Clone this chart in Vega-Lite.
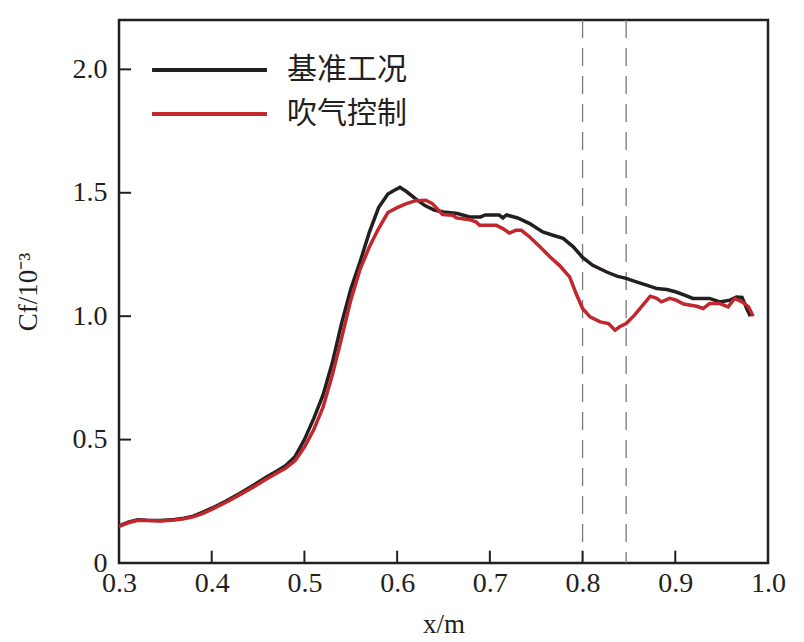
{
  "$schema": "https://vega.github.io/schema/vega-lite/v6.json",
  "autosize": "none",
  "width": 649,
  "height": 543,
  "padding": {"left": 119, "top": 20, "right": 36, "bottom": 79},
  "background": "white",
  "datasets": {
    "curves": [
      {"x": 0.300, "cf": 0.150, "case": "基准工况"},
      {"x": 0.310, "cf": 0.165, "case": "基准工况"},
      {"x": 0.320, "cf": 0.175, "case": "基准工况"},
      {"x": 0.330, "cf": 0.173, "case": "基准工况"},
      {"x": 0.345, "cf": 0.172, "case": "基准工况"},
      {"x": 0.360, "cf": 0.176, "case": "基准工况"},
      {"x": 0.370, "cf": 0.181, "case": "基准工况"},
      {"x": 0.380, "cf": 0.190, "case": "基准工况"},
      {"x": 0.390, "cf": 0.205, "case": "基准工况"},
      {"x": 0.400, "cf": 0.222, "case": "基准工况"},
      {"x": 0.415, "cf": 0.250, "case": "基准工况"},
      {"x": 0.430, "cf": 0.282, "case": "基准工况"},
      {"x": 0.445, "cf": 0.315, "case": "基准工况"},
      {"x": 0.460, "cf": 0.350, "case": "基准工况"},
      {"x": 0.470, "cf": 0.372, "case": "基准工况"},
      {"x": 0.480, "cf": 0.395, "case": "基准工况"},
      {"x": 0.490, "cf": 0.432, "case": "基准工况"},
      {"x": 0.500, "cf": 0.500, "case": "基准工况"},
      {"x": 0.510, "cf": 0.585, "case": "基准工况"},
      {"x": 0.520, "cf": 0.680, "case": "基准工况"},
      {"x": 0.530, "cf": 0.810, "case": "基准工况"},
      {"x": 0.540, "cf": 0.970, "case": "基准工况"},
      {"x": 0.550, "cf": 1.110, "case": "基准工况"},
      {"x": 0.560, "cf": 1.220, "case": "基准工况"},
      {"x": 0.570, "cf": 1.340, "case": "基准工况"},
      {"x": 0.580, "cf": 1.440, "case": "基准工况"},
      {"x": 0.590, "cf": 1.495, "case": "基准工况"},
      {"x": 0.597, "cf": 1.510, "case": "基准工况"},
      {"x": 0.603, "cf": 1.522, "case": "基准工况"},
      {"x": 0.610, "cf": 1.505, "case": "基准工况"},
      {"x": 0.620, "cf": 1.475, "case": "基准工况"},
      {"x": 0.630, "cf": 1.448, "case": "基准工况"},
      {"x": 0.640, "cf": 1.430, "case": "基准工况"},
      {"x": 0.650, "cf": 1.422, "case": "基准工况"},
      {"x": 0.665, "cf": 1.416, "case": "基准工况"},
      {"x": 0.678, "cf": 1.402, "case": "基准工况"},
      {"x": 0.690, "cf": 1.402, "case": "基准工况"},
      {"x": 0.695, "cf": 1.410, "case": "基准工况"},
      {"x": 0.710, "cf": 1.410, "case": "基准工况"},
      {"x": 0.714, "cf": 1.398, "case": "基准工况"},
      {"x": 0.718, "cf": 1.410, "case": "基准工况"},
      {"x": 0.730, "cf": 1.398, "case": "基准工况"},
      {"x": 0.743, "cf": 1.375, "case": "基准工况"},
      {"x": 0.757, "cf": 1.341, "case": "基准工况"},
      {"x": 0.768, "cf": 1.328, "case": "基准工况"},
      {"x": 0.779, "cf": 1.315, "case": "基准工况"},
      {"x": 0.790, "cf": 1.281, "case": "基准工况"},
      {"x": 0.800, "cf": 1.238, "case": "基准工况"},
      {"x": 0.811, "cf": 1.206, "case": "基准工况"},
      {"x": 0.826, "cf": 1.179, "case": "基准工况"},
      {"x": 0.837, "cf": 1.162, "case": "基准工况"},
      {"x": 0.847, "cf": 1.153, "case": "基准工况"},
      {"x": 0.858, "cf": 1.139, "case": "基准工况"},
      {"x": 0.869, "cf": 1.126, "case": "基准工况"},
      {"x": 0.880, "cf": 1.112, "case": "基准工况"},
      {"x": 0.891, "cf": 1.108, "case": "基准工况"},
      {"x": 0.901, "cf": 1.098, "case": "基准工况"},
      {"x": 0.910, "cf": 1.085, "case": "基准工况"},
      {"x": 0.919, "cf": 1.072, "case": "基准工况"},
      {"x": 0.937, "cf": 1.072, "case": "基准工况"},
      {"x": 0.948, "cf": 1.058, "case": "基准工况"},
      {"x": 0.959, "cf": 1.065, "case": "基准工况"},
      {"x": 0.966, "cf": 1.078, "case": "基准工况"},
      {"x": 0.972, "cf": 1.076, "case": "基准工况"},
      {"x": 0.977, "cf": 1.031, "case": "基准工况"},
      {"x": 0.981, "cf": 1.000, "case": "基准工况"},
      {"x": 0.300, "cf": 0.148, "case": "吹气控制"},
      {"x": 0.310, "cf": 0.163, "case": "吹气控制"},
      {"x": 0.320, "cf": 0.173, "case": "吹气控制"},
      {"x": 0.330, "cf": 0.172, "case": "吹气控制"},
      {"x": 0.345, "cf": 0.170, "case": "吹气控制"},
      {"x": 0.360, "cf": 0.174, "case": "吹气控制"},
      {"x": 0.370, "cf": 0.179, "case": "吹气控制"},
      {"x": 0.380, "cf": 0.187, "case": "吹气控制"},
      {"x": 0.390, "cf": 0.200, "case": "吹气控制"},
      {"x": 0.400, "cf": 0.217, "case": "吹气控制"},
      {"x": 0.415, "cf": 0.245, "case": "吹气控制"},
      {"x": 0.430, "cf": 0.276, "case": "吹气控制"},
      {"x": 0.445, "cf": 0.308, "case": "吹气控制"},
      {"x": 0.460, "cf": 0.342, "case": "吹气控制"},
      {"x": 0.470, "cf": 0.364, "case": "吹气控制"},
      {"x": 0.480, "cf": 0.385, "case": "吹气控制"},
      {"x": 0.490, "cf": 0.415, "case": "吹气控制"},
      {"x": 0.500, "cf": 0.470, "case": "吹气控制"},
      {"x": 0.510, "cf": 0.540, "case": "吹气控制"},
      {"x": 0.520, "cf": 0.630, "case": "吹气控制"},
      {"x": 0.530, "cf": 0.760, "case": "吹气控制"},
      {"x": 0.540, "cf": 0.910, "case": "吹气控制"},
      {"x": 0.550, "cf": 1.065, "case": "吹气控制"},
      {"x": 0.560, "cf": 1.190, "case": "吹气控制"},
      {"x": 0.570, "cf": 1.280, "case": "吹气控制"},
      {"x": 0.580, "cf": 1.355, "case": "吹气控制"},
      {"x": 0.590, "cf": 1.420, "case": "吹气控制"},
      {"x": 0.600, "cf": 1.440, "case": "吹气控制"},
      {"x": 0.610, "cf": 1.456, "case": "吹气控制"},
      {"x": 0.620, "cf": 1.468, "case": "吹气控制"},
      {"x": 0.631, "cf": 1.470, "case": "吹气控制"},
      {"x": 0.638, "cf": 1.456, "case": "吹气控制"},
      {"x": 0.649, "cf": 1.412, "case": "吹气控制"},
      {"x": 0.660, "cf": 1.409, "case": "吹气控制"},
      {"x": 0.664, "cf": 1.398, "case": "吹气控制"},
      {"x": 0.678, "cf": 1.391, "case": "吹气控制"},
      {"x": 0.685, "cf": 1.382, "case": "吹气控制"},
      {"x": 0.689, "cf": 1.368, "case": "吹气控制"},
      {"x": 0.707, "cf": 1.368, "case": "吹气控制"},
      {"x": 0.714, "cf": 1.355, "case": "吹气控制"},
      {"x": 0.721, "cf": 1.337, "case": "吹气控制"},
      {"x": 0.728, "cf": 1.348, "case": "吹气控制"},
      {"x": 0.734, "cf": 1.348, "case": "吹气控制"},
      {"x": 0.743, "cf": 1.321, "case": "吹气控制"},
      {"x": 0.754, "cf": 1.281, "case": "吹气控制"},
      {"x": 0.765, "cf": 1.240, "case": "吹气控制"},
      {"x": 0.775, "cf": 1.206, "case": "吹气控制"},
      {"x": 0.786, "cf": 1.159, "case": "吹气控制"},
      {"x": 0.793, "cf": 1.092, "case": "吹气控制"},
      {"x": 0.800, "cf": 1.031, "case": "吹气控制"},
      {"x": 0.808, "cf": 0.997, "case": "吹气控制"},
      {"x": 0.819, "cf": 0.977, "case": "吹气控制"},
      {"x": 0.828, "cf": 0.970, "case": "吹气控制"},
      {"x": 0.835, "cf": 0.943, "case": "吹气控制"},
      {"x": 0.840, "cf": 0.957, "case": "吹气控制"},
      {"x": 0.847, "cf": 0.970, "case": "吹气控制"},
      {"x": 0.856, "cf": 1.004, "case": "吹气控制"},
      {"x": 0.865, "cf": 1.045, "case": "吹气控制"},
      {"x": 0.873, "cf": 1.081, "case": "吹气控制"},
      {"x": 0.880, "cf": 1.072, "case": "吹气控制"},
      {"x": 0.885, "cf": 1.058, "case": "吹气控制"},
      {"x": 0.894, "cf": 1.072, "case": "吹气控制"},
      {"x": 0.901, "cf": 1.065, "case": "吹气控制"},
      {"x": 0.909, "cf": 1.049, "case": "吹气控制"},
      {"x": 0.923, "cf": 1.040, "case": "吹气控制"},
      {"x": 0.930, "cf": 1.031, "case": "吹气控制"},
      {"x": 0.937, "cf": 1.051, "case": "吹气控制"},
      {"x": 0.948, "cf": 1.051, "case": "吹气控制"},
      {"x": 0.957, "cf": 1.038, "case": "吹气控制"},
      {"x": 0.964, "cf": 1.072, "case": "吹气控制"},
      {"x": 0.972, "cf": 1.058, "case": "吹气控制"},
      {"x": 0.979, "cf": 1.038, "case": "吹气控制"},
      {"x": 0.984, "cf": 1.000, "case": "吹气控制"}
    ],
    "marks": [
      {"x": 0.800},
      {"x": 0.847}
    ],
    "xticks": [
      {"v": 0.4}, {"v": 0.5}, {"v": 0.6}, {"v": 0.7}, {"v": 0.8}, {"v": 0.9}
    ],
    "yticks": [
      {"v": 0.5}, {"v": 1.0}, {"v": 1.5}, {"v": 2.0}
    ]
  },
  "layer": [
    {
      "data": {"name": "marks"},
      "mark": {"type": "rule", "color": "#7a7a7a", "strokeWidth": 1.3, "strokeDash": [18, 10]},
      "encoding": {
        "x": {"field": "x", "type": "quantitative", "title": "x/m"}
      }
    },
    {
      "data": {"name": "xticks"},
      "mark": {"type": "rule", "color": "#231f20", "strokeWidth": 2},
      "encoding": {
        "x": {"field": "v", "type": "quantitative", "title": "x/m"},
        "y": {"datum": 0, "type": "quantitative", "title": "Cf/10⁻³"},
        "y2": {"datum": 0.05}
      }
    },
    {
      "data": {"name": "yticks"},
      "mark": {"type": "rule", "color": "#231f20", "strokeWidth": 2},
      "encoding": {
        "x": {"datum": 0.3, "type": "quantitative", "title": "x/m"},
        "x2": {"datum": 0.313},
        "y": {"field": "v", "type": "quantitative", "title": "Cf/10⁻³"}
      }
    },
    {
      "data": {"name": "curves"},
      "mark": {"type": "line", "strokeWidth": 3.5, "clip": true},
      "encoding": {
        "x": {
          "field": "x",
          "type": "quantitative",
          "title": "x/m",
          "scale": {"domain": [0.3, 1.0], "nice": false, "zero": false},
          "axis": {
            "values": [0.3, 0.4, 0.5, 0.6, 0.7, 0.8, 0.9, 1.0],
            "format": ".1f",
            "orient": "bottom"
          }
        },
        "y": {
          "field": "cf",
          "type": "quantitative",
          "title": "Cf/10⁻³",
          "scale": {"domain": [0, 2.2], "nice": false},
          "axis": {
            "values": [0, 0.5, 1.0, 1.5, 2.0],
            "labelExpr": "datum.value == 0 ? '0' : format(datum.value, '.1f')"
          }
        },
        "color": {
          "field": "case",
          "type": "nominal",
          "sort": ["基准工况", "吹气控制"],
          "scale": {"domain": ["基准工况", "吹气控制"], "range": ["#231f20", "#c1272d"]},
          "legend": {
            "title": null,
            "orient": "none",
            "legendX": 31,
            "legendY": 28,
            "padding": 0,
            "symbolType": "stroke",
            "symbolSize": 13200,
            "symbolStrokeWidth": 4,
            "clipHeight": 44,
            "rowPadding": 0,
            "labelOffset": 18,
            "labelFont": "Noto Sans CJK SC",
            "labelFontSize": 30,
            "labelColor": "#231f20",
            "labelLimit": 400
          }
        },
        "order": {"field": "x", "type": "quantitative"}
      }
    }
  ],
  "config": {
    "view": {"stroke": "#231f20", "strokeWidth": 2.5},
    "axis": {
      "domain": false,
      "grid": false,
      "ticks": false,
      "labelFlush": false,
      "labelOverlap": false,
      "labelFont": "Liberation Serif",
      "labelFontSize": 28,
      "labelColor": "#231f20",
      "titleFont": "Liberation Serif",
      "titleFontSize": 27,
      "titleFontWeight": "normal",
      "titleColor": "#231f20"
    },
    "axisX": {"labelPadding": 6, "titlePadding": 14},
    "axisY": {"labelPadding": 12, "titlePadding": 30}
  }
}
